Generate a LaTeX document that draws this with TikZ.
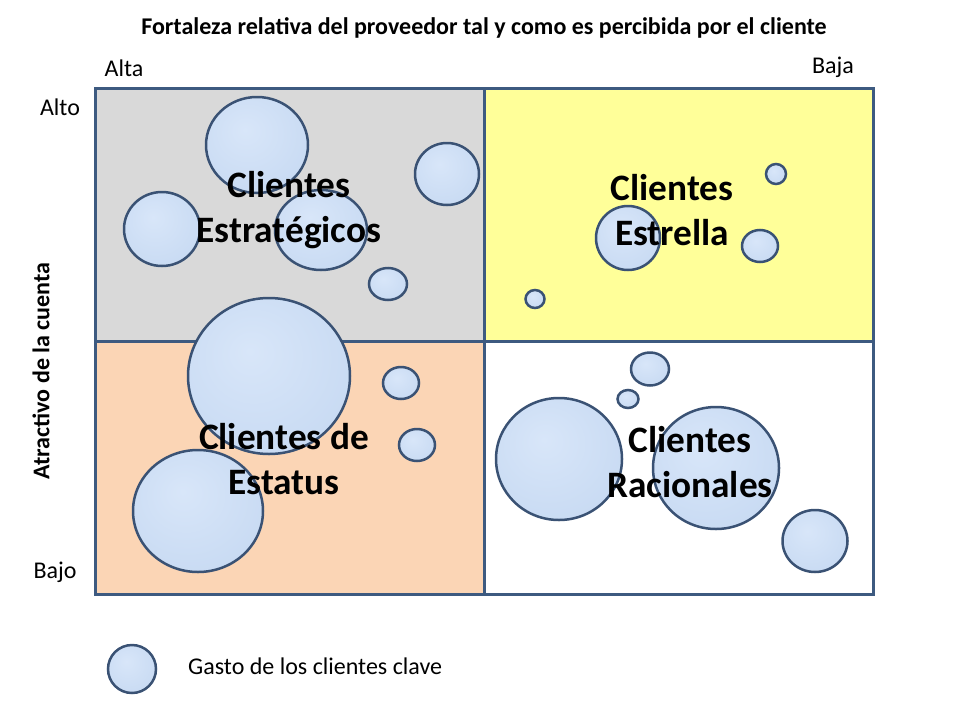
\documentclass[tikz,border=0pt]{standalone}
\usepackage{fontspec}
\setmainfont{Carlito}
\definecolor{gridline}{HTML}{3D5A80}
\definecolor{qgray}{HTML}{D9D9D9}
\definecolor{qyellow}{HTML}{FFFF99}
\definecolor{qpeach}{HTML}{FBD5B5}
\definecolor{bubline}{HTML}{3A5274}
\definecolor{bubin}{HTML}{D8E6F9}
\definecolor{bubmid}{HTML}{C9DBF3}
\definecolor{bubrim}{HTML}{9FB6D6}
\pgfdeclareradialshading{bubshade}{\pgfpoint{-6bp}{8bp}}{color(0bp)=(bubin); color(30bp)=(bubmid); color(44bp)=(bubmid); color(52bp)=(bubrim); color(70bp)=(bubrim)}
\begin{document}
\begin{tikzpicture}[x=1pt,y=-1pt,
  bubble/.style={shade, shading=bubshade, draw=bubline, line width=2.5pt},
  qlabel/.style={align=center, inner sep=0pt, font=\fontsize{37.3}{45}\bfseries\selectfont},
  axlabel/.style={inner sep=0pt, font=\fontsize{24}{28}\selectfont},
  gridstyle/.style={draw=gridline, line width=3pt}]
\useasboundingbox (0,0) rectangle (960,720);
% quadrants
\fill[qgray] (95,88) rectangle (484,341);
\fill[qyellow] (484,88) rectangle (873,341);
\fill[qpeach] (95,341) rectangle (484,594);
\fill[white] (484,341) rectangle (873,594);
\path[gridstyle] (95,88) rectangle (873,594);
\path[gridstyle] (484,88) -- (484,594);
\path[gridstyle] (95,341) -- (873,341);
% bubbles top-left
\path[bubble] (257,145) ellipse [x radius=51pt, y radius=48pt];
\path[bubble] (447,174) ellipse [x radius=32pt, y radius=31pt];
\path[bubble] (162,229) ellipse [x radius=38pt, y radius=37pt];
\path[bubble] (321,230) ellipse [x radius=46pt, y radius=40pt];
\path[bubble] (388,284) ellipse [x radius=19pt, y radius=16pt];
% bottom-left
\path[bubble] (269,376) ellipse [x radius=81pt, y radius=78pt];
\path[bubble] (401,383) ellipse [x radius=18pt, y radius=16pt];
\path[bubble] (417,445) ellipse [x radius=18pt, y radius=16pt];
\path[bubble] (198,511) ellipse [x radius=65pt, y radius=61pt];
% top-right
\path[bubble] (628,238) ellipse [x radius=32pt, y radius=32pt];
\path[bubble] (760,246) ellipse [x radius=18pt, y radius=16pt];
\path[bubble] (776,174) ellipse [x radius=10pt, y radius=10pt];
\path[bubble] (535,299) ellipse [x radius=9.5pt, y radius=9pt];
% bottom-right
\path[bubble] (650,369) ellipse [x radius=19pt, y radius=16.5pt];
\path[bubble] (628,399) ellipse [x radius=10.5pt, y radius=9pt];
\path[bubble] (559,459) ellipse [x radius=63pt, y radius=61pt];
\path[bubble] (716,468) ellipse [x radius=63pt, y radius=61pt];
\path[bubble] (815,541) ellipse [x radius=32.5pt, y radius=31pt];
% legend
\path[bubble] (132,669) ellipse [x radius=24pt, y radius=24pt];
\node[axlabel, anchor=west] (legend) at (188,666) {Gasto de los clientes clave};
% quadrant labels
\node[qlabel] (strat) at (289,210) {Clientes\\Estratégicos};
\node[qlabel] (estrella) at (672,210) {Clientes\\Estrella};
\node[qlabel] (estatus) at (284,459) {Clientes de\\Estatus};
\node[qlabel] (racion) at (690,462) {Clientes\\Racionales};
% axes text
\node[inner sep=0pt, font=\fontsize{24}{28}\bfseries\selectfont] (title) at (484,28) {Fortaleza relativa del proveedor tal y como es percibida por el cliente};
\node[axlabel] (alta) at (124,68) {Alta};
\node[axlabel] (baja) at (833,67) {Baja};
\node[axlabel] (alto) at (60,107) {Alto};
\node[axlabel] (bajo) at (55,572) {Bajo};
\node[inner sep=0pt, rotate=90, font=\fontsize{24}{28}\bfseries\selectfont] (atract) at (41,371) {Atractivo de la cuenta};
\end{tikzpicture}
\end{document}
